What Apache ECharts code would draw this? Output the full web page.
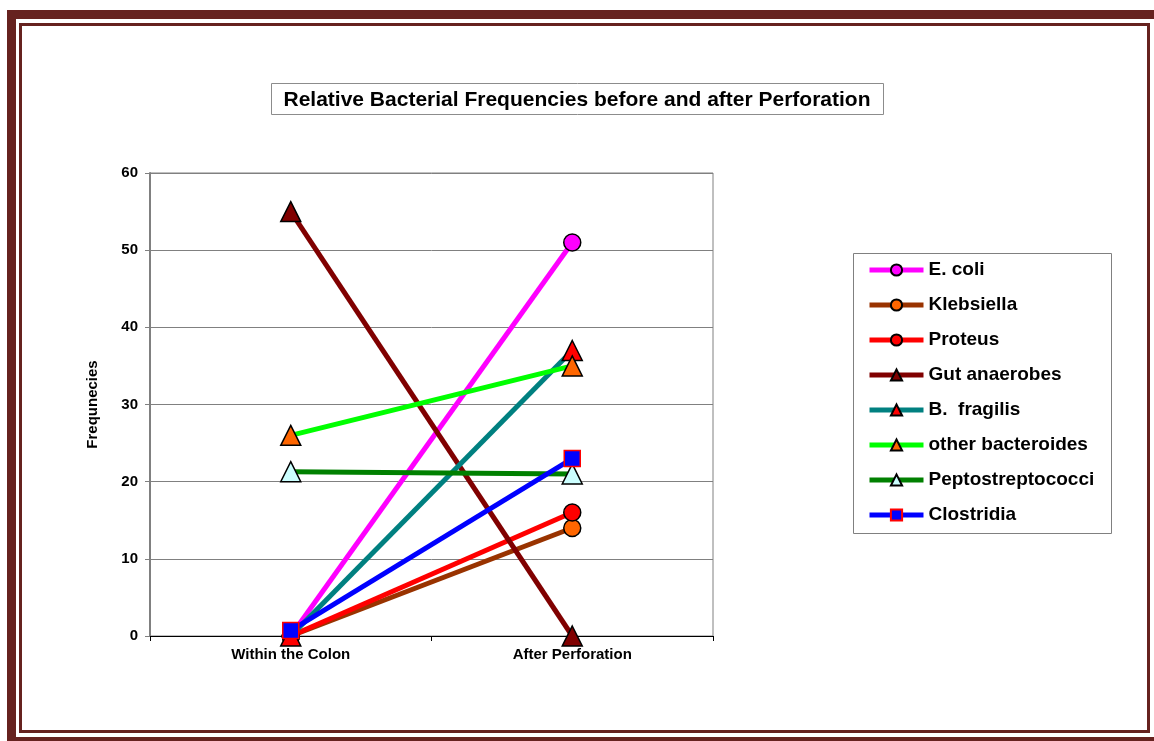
<!DOCTYPE html>
<html>
<head>
<meta charset="utf-8">
<script src="https://cdn.jsdelivr.net/npm/echarts@6/dist/echarts.min.js"></script>
<style>
html,body{margin:0;padding:0;background:#fff;}
#c{width:1154px;height:741px;}
</style>
</head>
<body>
<div id="c"></div>
<script>
var categories = ['Within the Colon', 'After Perforation'];
var seriesNames = ['E. coli', 'Klebsiella', 'Proteus', 'Gut anaerobes', 'B.  fragilis', 'other bacteroides', 'Peptostreptococci', 'Clostridia'];
var eColi = [0, 51];
var klebsiella = [0, 14];
var proteus = [0, 16];
var gutAnaerobes = [55, 0];
var bFragilis = [0, 37];
var otherBacteroides = [26, 35];
var peptostreptococci = [21.3, 21];
var clostridia = [0.7, 23];
var yTicks = [0, 10, 20, 30, 40, 50, 60];

var values = [eColi, klebsiella, proteus, gutAnaerobes, bFragilis, otherBacteroides, peptostreptococci, clostridia];
var lineColors = ['#FF00FF', '#993300', '#FF0000', '#800000', '#008080', '#00FF00', '#008000', '#0000FF'];
var markerFill = ['#FF00FF', '#FF6600', '#FF0000', '#800000', '#FF0000', '#FF6600', '#CCFFFF', '#0000FF'];
var markerBorder = ['#000', '#000', '#000', '#000', '#000', '#000', '#000', '#FF0000'];
var markerShape = ['circle', 'circle', 'circle', 'triangle', 'triangle', 'triangle', 'triangle', 'rect'];
var markerSize = [17, 17, 17, 20, 20, 20, 20, 16];

var chart = echarts.init(document.getElementById('c'), null, {renderer: 'canvas'});
var FONT = '"Liberation Sans", Arial, sans-serif';
var frame = '#66221F';

var series = values.map(function (v, i) {
  return {
    name: seriesNames[i],
    type: 'line',
    data: v,
    symbol: markerShape[i],
    symbolSize: markerSize[i],
    showAllSymbol: true,
    lineStyle: {color: lineColors[i], width: 5},
    itemStyle: {color: markerFill[i], borderColor: markerBorder[i], borderWidth: 1.5},
    emphasis: {disabled: true},
    animation: false,
    z: 3 + i
  };
});

chart.setOption({
  animation: false,
  backgroundColor: '#fff',
  graphic: [
    {type: 'rect', shape: {x: 11.5, y: 14.5, width: 1160, height: 727}, style: {fill: null, stroke: frame, lineWidth: 9}, silent: true},
    {type: 'rect', shape: {x: 20.5, y: 24.5, width: 1128, height: 707}, style: {fill: null, stroke: frame, lineWidth: 3}, silent: true},
    {type: 'rect', shape: {x: 271.5, y: 83.5, width: 612, height: 31}, style: {fill: '#fff', stroke: '#8c8c8c', lineWidth: 1}, silent: true},
    {type: 'text', x: 577, y: 100, style: {text: 'Relative Bacterial Frequencies before and after Perforation', font: 'bold 21px ' + FONT, fill: '#000', align: 'center', verticalAlign: 'middle'}, silent: true},
    {type: 'rect', shape: {x: 853.5, y: 253.5, width: 258, height: 280}, style: {fill: '#fff', stroke: '#808080', lineWidth: 1}, silent: true, z: 0}
  ],
  grid: {left: 150, right: 441, top: 173, bottom: 105, show: true, borderColor: '#808080', borderWidth: 1, backgroundColor: 'transparent'},
  legend: {
    orient: 'vertical',
    left: 867,
    top: 260,
    padding: 0,
    itemWidth: 54,
    itemHeight: 14,
    itemGap: 15,
    data: seriesNames,
    selectedMode: false,
    lineStyle: {width: 5},
    textStyle: {fontFamily: FONT, fontWeight: 'bold', fontSize: 19, lineHeight: 20, color: '#000', padding: [0, 0, 0, 0]},
    z: 5
  },
  xAxis: {
    type: 'category',
    data: categories,
    boundaryGap: true,
    axisLine: {lineStyle: {color: '#000', width: 1}},
    axisTick: {show: true, alignWithLabel: false, length: 5, lineStyle: {color: '#000'}},
    axisLabel: {fontFamily: FONT, fontWeight: 'bold', fontSize: 15, color: '#000', margin: 11}
  },
  yAxis: {
    type: 'value',
    min: 0,
    max: 60,
    interval: 10,
    name: 'Frequnecies',
    nameLocation: 'middle',
    nameGap: 50,
    nameTextStyle: {fontFamily: FONT, fontWeight: 'bold', fontSize: 15, color: '#000'},
    axisLine: {show: true, lineStyle: {color: '#808080', width: 2}},
    axisTick: {show: true, length: 5, lineStyle: {color: '#808080'}},
    axisLabel: {fontFamily: FONT, fontWeight: 'bold', fontSize: 15, color: '#000', margin: 12,
      formatter: function (v) { return yTicks.indexOf(v) >= 0 ? String(v) : ''; }},
    splitLine: {show: true, lineStyle: {color: '#808080', width: 1}}
  },
  series: series
});
</script>
</body>
</html>
